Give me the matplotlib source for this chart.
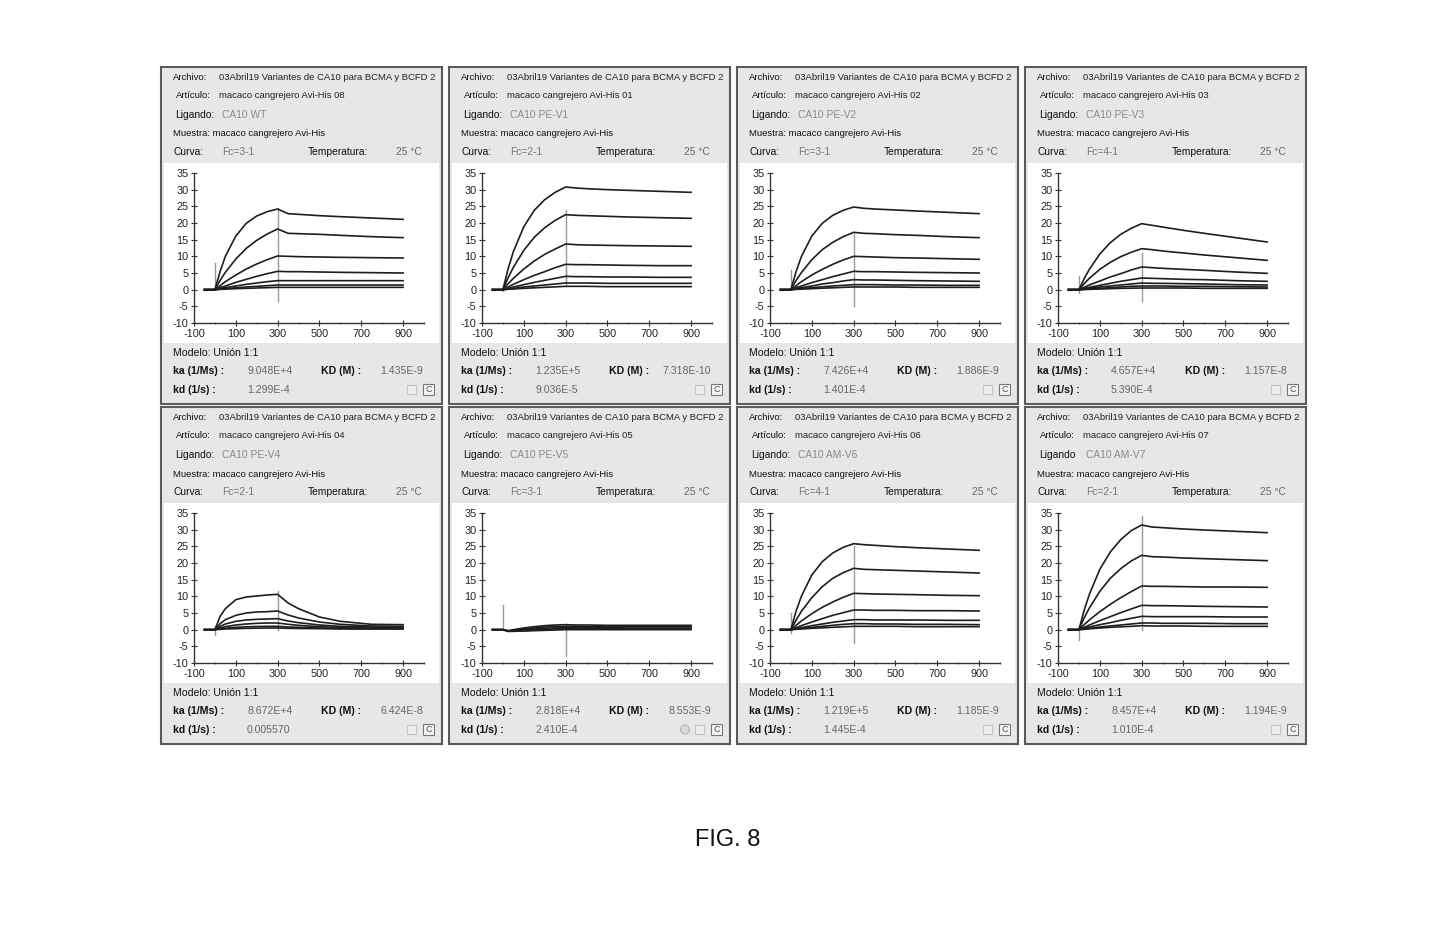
import matplotlib
matplotlib.use('Agg')
import matplotlib.pyplot as plt
import matplotlib.patches as patches
from matplotlib import font_manager

# sensorgram time grid (s)
t_grid = [-50, 0, 25, 50, 100, 150, 200, 250, 300, 350, 400, 500, 600, 750, 900]

# response units, one row per concentration
wt_resp = [
    [0, 0, 5.5, 10.0, 16.1, 19.9, 22.1, 23.4, 24.2, 22.8, 22.6, 22.2, 21.9, 21.5, 21.1],
    [0, 0, 2.8, 5.2, 9.2, 12.4, 14.8, 16.7, 18.2, 16.9, 16.8, 16.6, 16.3, 15.9, 15.6],
    [0, 0, 1.2, 2.4, 4.4, 6.2, 7.7, 9.0, 10.1, 10.0, 9.9, 9.8, 9.7, 9.6, 9.5],
    [0, 0, 0.6, 1.1, 2.2, 3.1, 4.0, 4.8, 5.5, 5.4, 5.4, 5.3, 5.2, 5.1, 5.0],
    [0, 0, 0.3, 0.6, 1.1, 1.6, 2.0, 2.4, 2.7, 2.7, 2.7, 2.7, 2.7, 2.7, 2.7],
    [0, 0, 0.15, 0.3, 0.55, 0.8, 1.0, 1.2, 1.4, 1.4, 1.4, 1.4, 1.4, 1.4, 1.4],
    [0, 0, 0.1, 0.15, 0.3, 0.4, 0.5, 0.6, 0.7, 0.7, 0.7, 0.7, 0.7, 0.7, 0.7],
]
pev1_resp = [
    [0, 0, 6.3, 11.4, 18.9, 23.8, 27.0, 29.2, 30.8, 30.5, 30.3, 30.0, 29.8, 29.5, 29.2],
    [0, 0, 3.6, 6.7, 11.8, 15.7, 18.6, 20.8, 22.5, 22.3, 22.2, 22.0, 21.8, 21.6, 21.4],
    [0, 0, 1.8, 3.4, 6.2, 8.6, 10.6, 12.2, 13.7, 13.5, 13.4, 13.3, 13.2, 13.1, 13.0],
    [0, 0, 0.8, 1.6, 3.0, 4.3, 5.4, 6.6, 7.6, 7.5, 7.5, 7.4, 7.3, 7.2, 7.2],
    [0, 0, 0.4, 0.8, 1.5, 2.2, 2.8, 3.4, 4.0, 3.9, 3.9, 3.8, 3.8, 3.7, 3.7],
    [0, 0, 0.2, 0.4, 0.8, 1.1, 1.4, 1.7, 2.0, 2.0, 2.0, 1.9, 1.9, 1.9, 1.9],
    [0, 0, 0.1, 0.2, 0.4, 0.55, 0.7, 0.85, 1.0, 1.0, 1.0, 0.9, 0.9, 0.9, 0.9],
]
pev2_resp = [
    [0, 0, 5.5, 9.9, 16.1, 19.9, 22.3, 23.8, 24.8, 24.4, 24.2, 23.9, 23.6, 23.2, 22.8],
    [0, 0, 2.8, 5.1, 9.0, 12.0, 14.2, 15.9, 17.2, 16.9, 16.8, 16.5, 16.3, 15.9, 15.6],
    [0, 0, 1.2, 2.4, 4.4, 6.1, 7.6, 8.9, 10.0, 9.9, 9.8, 9.6, 9.5, 9.3, 9.1],
    [0, 0, 0.6, 1.1, 2.1, 3.0, 3.9, 4.7, 5.5, 5.4, 5.4, 5.3, 5.2, 5.1, 5.0],
    [0, 0, 0.3, 0.6, 1.1, 1.7, 2.1, 2.6, 3.0, 2.9, 2.9, 2.8, 2.7, 2.6, 2.5],
    [0, 0, 0.15, 0.3, 0.6, 0.85, 1.1, 1.3, 1.5, 1.5, 1.5, 1.4, 1.4, 1.3, 1.3],
    [0, 0, 0.1, 0.15, 0.3, 0.45, 0.55, 0.7, 0.8, 0.8, 0.8, 0.8, 0.7, 0.7, 0.7],
]
pev3_resp = [
    [0, 0, 3.3, 6.1, 10.7, 14.1, 16.6, 18.4, 19.8, 19.3, 18.8, 17.8, 16.9, 15.6, 14.3],
    [0, 0, 1.8, 3.4, 6.1, 8.2, 9.9, 11.2, 12.3, 12.0, 11.6, 11.0, 10.4, 9.6, 8.8],
    [0, 0, 0.7, 1.4, 2.6, 3.8, 4.8, 5.9, 6.8, 6.6, 6.4, 6.1, 5.8, 5.3, 4.9],
    [0, 0, 0.35, 0.7, 1.3, 1.9, 2.5, 3.0, 3.5, 3.4, 3.3, 3.1, 3.0, 2.7, 2.5],
    [0, 0, 0.2, 0.4, 0.8, 1.1, 1.4, 1.7, 2.0, 1.9, 1.9, 1.8, 1.7, 1.5, 1.4],
    [0, 0, 0.1, 0.2, 0.4, 0.6, 0.8, 1.0, 1.1, 1.1, 1.1, 1.0, 1.0, 0.9, 0.8],
    [0, 0, 0.05, 0.1, 0.2, 0.3, 0.4, 0.45, 0.5, 0.5, 0.5, 0.5, 0.4, 0.4, 0.4],
]
pev4_resp = [
    [0, 0, 4.0, 6.3, 9.0, 9.8, 10.1, 10.4, 10.6, 8.0, 6.3, 3.8, 2.5, 1.6, 1.5],
    [0, 0, 1.8, 3.0, 4.3, 5.0, 5.3, 5.4, 5.6, 4.4, 3.5, 2.3, 1.6, 1.1, 1.0],
    [0, 0, 1.0, 1.7, 2.5, 2.9, 3.1, 3.2, 3.3, 2.6, 2.1, 1.4, 1.0, 0.8, 0.7],
    [0, 0, 0.5, 0.9, 1.4, 1.7, 1.9, 2.0, 2.0, 1.6, 1.3, 0.9, 0.6, 0.5, 0.5],
    [0, 0, 0.25, 0.45, 0.7, 0.85, 0.95, 1.0, 1.0, 0.8, 0.7, 0.5, 0.4, 0.3, 0.3],
    [0, 0, 0.1, 0.2, 0.3, 0.4, 0.45, 0.5, 0.5, 0.4, 0.35, 0.3, 0.2, 0.2, 0.2],
]
pev5_resp = [
    [0, 0, -0.3, 0.0, 0.5, 0.9, 1.2, 1.4, 1.5, 1.4, 1.4, 1.3, 1.3, 1.3, 1.3],
    [0, 0, -0.4, -0.2, 0.2, 0.5, 0.8, 0.9, 1.0, 1.0, 0.9, 0.9, 0.9, 0.9, 0.9],
    [0, 0, -0.4, -0.3, 0.0, 0.2, 0.4, 0.5, 0.6, 0.6, 0.6, 0.6, 0.5, 0.5, 0.5],
    [0, 0, -0.5, -0.4, -0.3, -0.1, 0.1, 0.2, 0.3, 0.3, 0.3, 0.3, 0.2, 0.2, 0.2],
    [0, 0, -0.5, -0.5, -0.4, -0.3, -0.2, -0.1, 0.0, 0.0, 0.0, 0.0, 0.0, 0.0, 0.0],
]
amv6_resp = [
    [0, 0, 5.6, 10.0, 16.4, 20.4, 23.0, 24.7, 25.8, 25.5, 25.3, 24.9, 24.6, 24.2, 23.8],
    [0, 0, 2.9, 5.5, 9.6, 12.9, 15.4, 17.1, 18.4, 18.1, 18.0, 17.8, 17.6, 17.3, 17.0],
    [0, 0, 1.3, 2.6, 4.8, 6.7, 8.3, 9.7, 10.9, 10.8, 10.7, 10.6, 10.5, 10.3, 10.2],
    [0, 0, 0.6, 1.2, 2.3, 3.3, 4.3, 5.1, 5.9, 5.9, 5.8, 5.8, 5.7, 5.7, 5.6],
    [0, 0, 0.3, 0.6, 1.2, 1.7, 2.2, 2.6, 3.0, 3.0, 2.9, 2.9, 2.9, 2.8, 2.8],
    [0, 0, 0.2, 0.4, 0.7, 1.0, 1.3, 1.6, 1.8, 1.8, 1.7, 1.7, 1.6, 1.6, 1.5],
    [0, 0, 0.1, 0.2, 0.4, 0.55, 0.7, 0.85, 1.0, 1.0, 1.0, 1.0, 0.9, 0.9, 0.9],
]
amv7_resp = [
    [0, 0, 5.8, 10.6, 18.1, 23.3, 27.0, 29.7, 31.4, 30.8, 30.6, 30.2, 29.9, 29.5, 29.1],
    [0, 0, 3.5, 6.5, 11.5, 15.4, 18.3, 20.6, 22.3, 21.9, 21.8, 21.5, 21.3, 21.0, 20.7],
    [0, 0, 1.5, 2.9, 5.4, 7.6, 9.6, 11.4, 13.1, 13.0, 13.0, 12.9, 12.8, 12.8, 12.7],
    [0, 0, 0.7, 1.4, 2.7, 3.9, 5.1, 6.2, 7.3, 7.2, 7.2, 7.1, 7.0, 6.9, 6.8],
    [0, 0, 0.4, 0.8, 1.5, 2.1, 2.8, 3.4, 4.0, 3.9, 3.9, 3.9, 3.9, 3.8, 3.8],
    [0, 0, 0.2, 0.4, 0.8, 1.1, 1.4, 1.7, 2.0, 2.0, 1.9, 1.9, 1.9, 1.8, 1.8],
    [0, 0, 0.1, 0.25, 0.5, 0.7, 0.85, 1.0, 1.2, 1.1, 1.1, 1.1, 1.0, 1.0, 1.0],
]

# injection artefacts (time, low, high)
wt_spikes = [(0, 0, 8), (300, -3.5, 24.5)]
pev1_spikes = [(0, -0.5, 1), (300, 1, 24), (300, 3, 6)]
pev2_spikes = [(0, 0, 6), (300, -5, 17)]
pev3_spikes = [(0, -1, 4), (300, -3.5, 11)]
pev4_spikes = [(0, -1.5, 1), (300, 0, 11.5)]
pev5_spikes = [(0, 0, 7.5), (300, -8, 1.5)]
amv6_spikes = [(0, -1, 5), (300, -4, 25)]
amv7_spikes = [(0, -3, 1), (300, 0, 34)]

responses = [wt_resp, pev1_resp, pev2_resp, pev3_resp, pev4_resp, pev5_resp, amv6_resp, amv7_resp]
spikes = [wt_spikes, pev1_spikes, pev2_spikes, pev3_spikes, pev4_spikes, pev5_spikes, amv6_spikes, amv7_spikes]

archivo = '03Abril19 Variantes de CA10 para BCMA y BCFD 2'
articulo = ['macaco cangrejero Avi-His 08', 'macaco cangrejero Avi-His 01', 'macaco cangrejero Avi-His 02',
            'macaco cangrejero Avi-His 03', 'macaco cangrejero Avi-His 04', 'macaco cangrejero Avi-His 05',
            'macaco cangrejero Avi-His 06', 'macaco cangrejero Avi-His 07']
ligando = ['CA10 WT', 'CA10 PE-V1', 'CA10 PE-V2', 'CA10 PE-V3', 'CA10 PE-V4', 'CA10 PE-V5', 'CA10 AM-V6', 'CA10 AM-V7']
ligando_lbl = ['Ligando:'] * 7 + ['Ligando']
curva = ['Fc=3-1', 'Fc=2-1', 'Fc=3-1', 'Fc=4-1', 'Fc=2-1', 'Fc=3-1', 'Fc=4-1', 'Fc=2-1']
ka_vals = ['9.048E+4', '1.235E+5', '7.426E+4', '4.657E+4', '8.672E+4', '2.818E+4', '1.219E+5', '8.457E+4']
KD_vals = ['1.435E-9', '7.318E-10', '1.886E-9', '1.157E-8', '6.424E-8', '8.553E-9', '1.185E-9', '1.194E-9']
kd_vals = ['1.299E-4', '9.036E-5', '1.401E-4', '5.390E-4', '0.005570', '2.410E-4', '1.445E-4', '1.010E-4']

W, H = 1433, 927
names = {f.name for f in font_manager.fontManager.ttflist}
NARROW = 'Liberation Sans Narrow' if 'Liberation Sans Narrow' in names else 'Liberation Sans'
FS = 7.6 if NARROW == 'Liberation Sans Narrow' else 6.8
plt.rcParams['font.family'] = [NARROW, 'DejaVu Sans']

fig = plt.figure(figsize=(W / 100, H / 100), dpi=100)


def fx(px):
    return px / W


def fy(py):
    return 1 - py / H


def txt(px, py, s, **kw):
    kw.setdefault('size', FS)
    kw.setdefault('va', 'center')
    fig.text(fx(px), fy(py), s, **kw)


def rect(px, py, w, h, **kw):
    kw.setdefault('zorder', -2)
    fig.patches.append(patches.Rectangle((fx(px), fy(py + h)), w / W, h / H,
                                         transform=fig.transFigure, **kw))


lefts = [161, 449, 737, 1025]
tops = [67, 407]
PW, PH = 281, 337

for i in range(8):
    L = lefts[i % 4]
    T = tops[i // 4]

    # panel frame and white plot region
    rect(L, T, PW, PH, facecolor='#e7e7e7', edgecolor='#5a5a5a', lw=1.5, zorder=-3)
    rect(L + 3, T + 96, PW - 6, 180, facecolor='white', edgecolor='none')

    # header
    txt(L + 12, T + 11, 'Archivo:', color='#111')
    txt(L + 58, T + 11, archivo, color='#222')
    txt(L + 15, T + 29, 'Artículo:', color='#111')
    txt(L + 58, T + 29, articulo[i], color='#222')
    txt(L + 14, T + 48, ligando_lbl[i], color='#111', size=FS + 0.6)
    txt(L + 61, T + 48, ligando[i], color='#8a8a8a', size=FS + 0.6)
    txt(L + 12, T + 67, 'Muestra: macaco cangrejero Avi-His', color='#111')
    txt(L + 12, T + 85, 'Curva:', color='#111', size=FS + 0.6)
    txt(L + 61, T + 85, curva[i], color='#777', size=FS + 0.6)
    txt(L + 147, T + 85, 'Temperatura:', color='#111', size=FS + 0.6)
    txt(L + 261, T + 85, '25 °C', color='#666', ha='right', size=FS + 0.6)

    # footer
    txt(L + 12, T + 286, 'Modelo: Unión 1:1', color='#111', size=FS + 0.8)
    txt(L + 12, T + 304, 'ka (1/Ms) :', weight='bold', color='#111', size=FS + 0.8)
    txt(L + 86, T + 304, ka_vals[i], color='#666', size=FS + 0.8)
    txt(L + 160, T + 304, 'KD (M) :', weight='bold', color='#111', size=FS + 0.8)
    txt(L + 262, T + 304, KD_vals[i], color='#666', ha='right', size=FS + 0.8)
    txt(L + 12, T + 323, 'kd (1/s) :', weight='bold', color='#111', size=FS + 0.8)
    txt(L + 86, T + 323, kd_vals[i], color='#666', size=FS + 0.8)

    # small status icons
    rect(L + 262, T + 317, 11, 11, facecolor='#f4f4f4', edgecolor='#777', lw=0.8)
    txt(L + 267.5, T + 322.5, 'C', size=6.5, color='#555', ha='center')
    rect(L + 246, T + 318, 9, 9, facecolor='#eeeeee', edgecolor='#c4c4c4', lw=0.8)
    if i == 5:
        fig.patches.append(patches.Ellipse((fx(L + 236), fy(T + 322.5)), 9 / W, 9 / H,
                                           transform=fig.transFigure, facecolor='#d9d9d9',
                                           edgecolor='#b5b5b5', lw=0.8, zorder=-2))

    # sensorgram axes
    ax = fig.add_axes([fx(L + 33), fy(T + 256), 230 / W, 150 / H])
    ax.set_zorder(5)
    ax.patch.set_alpha(0)
    ax.set_xlim(-100, 1000)
    ax.set_ylim(-10, 35)
    for s in ['top', 'right']:
        ax.spines[s].set_visible(False)
    for s in ['left', 'bottom']:
        ax.spines[s].set_color('#333')
        ax.spines[s].set_linewidth(1.0)
    ax.set_xticks([-100, 100, 300, 500, 700, 900])
    ax.set_xticks([0, 200, 400, 600, 800, 1000], minor=True)
    ax.set_yticks(list(range(-10, 36, 5)))
    ax.set_yticklabels(['-10', '-5', '0', '5', '10', '15', '20', '25', '30', '35'])
    ax.set_xticklabels(['-100', '100', '300', '500', '700', '900'])
    ax.tick_params(direction='inout', length=4, width=0.8, labelsize=FS + 1.0,
                   colors='#333', labelcolor='#222', pad=2)
    ax.tick_params(which='minor', direction='inout', length=2, width=0.6, colors='#555')

    for x, lo, hi in spikes[i]:
        ax.plot([x, x], [lo, hi], color='#9a9a9a', lw=1.0, zorder=1)
    for curve in responses[i]:
        ax.plot(t_grid, curve, color='#1e1e1e', lw=1.2, zorder=2)

txt(728, 840, 'FIG. 8', family='Liberation Sans', size=17, ha='center', color='#111')

fig.savefig('out.png', dpi=100)
